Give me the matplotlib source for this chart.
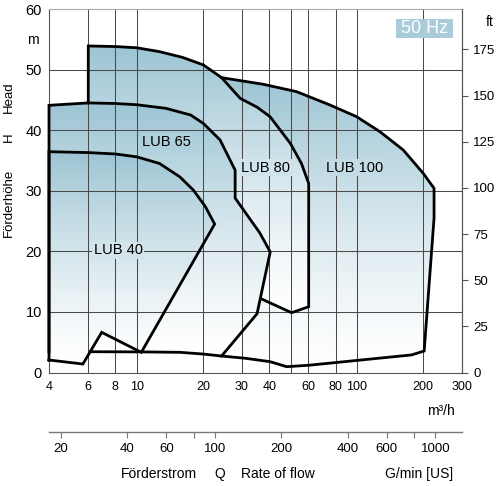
import numpy as np
import matplotlib.pyplot as plt
from matplotlib.patches import Polygon, Rectangle
from matplotlib.ticker import NullLocator, FixedLocator, FixedFormatter
from matplotlib.colors import to_rgb

plt.rcParams['font.family'] = ['Liberation Sans', 'DejaVu Sans']

M3H_TO_GPM = 4.40287
M_TO_FT = 3.28084

# --- pump range outlines, Q in m3/h, H in m ---
# LUB 40 field
q_lub40 = [4, 4, 6.03, 8.0, 10.0, 12.7, 15.7, 18.1, 20.5, 22.6, 10.5, 6.94, 5.7, 4]
h_lub40 = [2.06, 36.45, 36.3, 36.07, 35.6, 34.5, 32.3, 30.1, 27.4, 24.5, 3.33, 6.63, 1.40, 2.06]

# LUB 65 field (left edge, top curve, right edge, bottom)
q_lub65 = [4, 4, 6.03, 8.0, 10.0, 13.6, 17.6, 20.1, 23.9, 28.0, 28.0, 31.3, 36.3, 40.4,
           35.2, 24.3, 20.0, 15.7, 10.5, 6.2]
h_lub65 = [3.43, 44.1, 44.5, 44.4, 44.2, 43.6, 42.5, 41.1, 38.4, 33.4, 28.8, 26.3, 23.0, 19.9,
           9.7, 2.72, 3.05, 3.33, 3.40, 3.43]

# LUB 80 field (top curve, right edge, lower edge)
q_lub80 = [6.03, 6.03, 8.0, 10.0, 12.7, 16.2, 20.1, 24.3, 29.5, 35.2, 40.4, 49.9, 56.0, 60.4,
           60.4, 50.5, 36.6]
h_lub80 = [44.5, 53.9, 53.8, 53.6, 52.96, 52.0, 50.76, 48.67, 45.26, 43.8, 42.2, 37.8, 34.5, 31.2,
           10.86, 9.87, 12.2]

# LUB 100 field (top curve, right edge, bottom)
q_lub100 = [24.3, 26.5, 37.6, 53.2, 75.4, 99.6, 127.2, 162.3, 200, 224, 224, 202, 177,
            60.6, 48.0, 40.4, 31.3, 24.3]
h_lub100 = [48.67, 48.45, 47.57, 46.36, 44.16, 42.23, 39.75, 36.73, 32.88, 30.4, 25.5, 3.55, 2.9,
            1.2, 0.96, 1.78, 2.34, 2.72]

x_ticks = [4, 6, 8, 10, 20, 30, 40, 60, 80, 100, 200, 300]
x_grid = [6, 8, 10, 20, 30, 40, 50, 60, 80, 100, 200]
y_ticks = [0, 10, 20, 30, 40, 50, 60]
ft_ticks = [0, 25, 50, 75, 100, 125, 150, 175]
gpm_ticks = [20, 40, 60, 80, 100, 200, 400, 600, 800, 1000]
gpm_labels = ['20', '40', '60', '', '100', '200', '400', '600', '', '1000']

TOP = np.array(to_rgb('#9cc4d3'))
WHITE = np.ones(3)


def shade(h, h_bot, h_top):
    t = np.clip((np.asarray(h) - h_bot) / (h_top - h_bot), 0, 1) ** 1.3
    return WHITE * (1 - t[..., None]) + TOP * t[..., None]


def fill_gradient(ax, q, h, h_bot, h_top, z):
    poly = Polygon(np.column_stack([q, h]), closed=True, facecolor='none',
                   edgecolor='none', transform=ax.transData)
    ax.add_patch(poly)
    hs = np.linspace(0, 60, 400)
    img = shade(hs, h_bot, h_top)[:, None, :]
    im = ax.imshow(img, extent=[0, 1, 0, 1], transform=ax.transAxes, origin='lower',
                   aspect='auto', interpolation='bilinear', zorder=z)
    im.set_clip_path(poly)


fig = plt.figure(figsize=(5, 4.86), dpi=100)
ax = fig.add_axes([49 / 500, 1 - 372.5 / 486, 413 / 500, 363.5 / 486])
ax.set_xscale('log')
ax.set_xlim(4, 300)
ax.set_ylim(0, 60)
ax.set_autoscale_on(False)

fill_gradient(ax, q_lub100, h_lub100, 0.96, 48.7, 0.1)
fill_gradient(ax, q_lub80 + [6.03], h_lub80 + [12.2], 9.87, 53.9, 0.2)
fill_gradient(ax, q_lub65, h_lub65, 2.7, 44.5, 0.3)
fill_gradient(ax, q_lub40, h_lub40, 1.4, 36.45, 0.4)

for xv in x_grid:
    ax.axvline(xv, color='#4a4a4a', lw=0.75, zorder=2)
for yv in y_ticks[1:-1]:
    ax.axhline(yv, color='#4a4a4a', lw=0.75, zorder=2)

lw = 2.0
for q, h in [(q_lub40, h_lub40), (q_lub65, h_lub65), (q_lub80, h_lub80), (q_lub100, h_lub100)]:
    ax.plot(q, h, color='black', lw=lw, zorder=4, clip_on=False, solid_joinstyle='miter')

label_pos = [('LUB 65', 13.7, 38.1, 2.7, 44.5), ('LUB 80', 38.5, 33.8, 9.87, 53.9),
             ('LUB 100', 97.2, 33.8, 0.96, 48.7), ('LUB 40', 8.25, 20.2, 1.4, 36.45)]
for name, qx, hy, hb, ht in label_pos:
    ax.text(qx, hy, name, ha='center', va='center', fontsize=10.5, zorder=5,
            bbox=dict(boxstyle='square,pad=0.1', fc=shade(hy, hb, ht), ec='none'))

ax.xaxis.set_major_locator(FixedLocator(x_ticks))
ax.xaxis.set_major_formatter(FixedFormatter([str(v) for v in x_ticks]))
ax.xaxis.set_minor_locator(NullLocator())
ax.set_yticks(y_ticks)
ax.tick_params(axis='both', length=0)
ax.tick_params(axis='x', pad=6, labelsize=9)
ax.tick_params(axis='y', pad=5, labelsize=10.5)
for side in ['left', 'bottom', 'right']:
    ax.spines[side].set_color('#555555')
    ax.spines[side].set_linewidth(0.8)
ax.spines['top'].set_color('#aaaaaa')
ax.spines['top'].set_linewidth(0.8)

ax_r = ax.twinx()
ax_r.set_ylim(0, 60 * M_TO_FT)
ax_r.set_yticks(ft_ticks)
ax_r.tick_params(axis='y', direction='out', length=4, width=0.8, color='#555555',
                 labelsize=9.5, pad=4)
for side in ['left', 'bottom', 'top']:
    ax_r.spines[side].set_visible(False)
ax_r.spines['right'].set_color('#555555')
ax_r.spines['right'].set_linewidth(0.8)

# flow axis in US gallons per minute
ax_g = fig.add_axes([49 / 500, 1 - 432.3 / 486, 413 / 500, 0.001])
ax_g.set_facecolor('none')
ax_g.set_xscale('log')
ax_g.set_xlim(4 * M3H_TO_GPM, 300 * M3H_TO_GPM)
ax_g.xaxis.set_major_locator(FixedLocator(gpm_ticks))
ax_g.xaxis.set_major_formatter(FixedFormatter(gpm_labels))
ax_g.xaxis.set_minor_locator(NullLocator())
ax_g.set_yticks([])
for side in ['left', 'right', 'top']:
    ax_g.spines[side].set_visible(False)
ax_g.spines['bottom'].set_color('#777777')
ax_g.spines['bottom'].set_linewidth(1.0)
ax_g.tick_params(axis='x', direction='out', length=4, width=0.8, color='#777777',
                 labelsize=9.5, pad=4)

# texts around the plot
fig.text(33 / 500, 1 - 40 / 486, 'm', ha='center', va='center', fontsize=10)
fig.text(490 / 500, 1 - 22 / 486, 'ft', ha='center', va='center', fontsize=10)
fig.text(9 / 500, 1 - 96.7 / 486, 'Head', rotation=90, ha='center', va='center', fontsize=9.5)
fig.text(9 / 500, 1 - 137.3 / 486, 'H', rotation=90, ha='center', va='center', fontsize=9.5)
fig.text(9 / 500, 1 - 203 / 486, 'Förderhöhe', rotation=90, ha='center', va='center', fontsize=9.5)
fig.text(440.7 / 500, 1 - 410.7 / 486, 'm³/h', ha='center', va='center', fontsize=10)
for txt, xp in [('Förderstrom', 159), ('Q', 220), ('Rate of flow', 278), ('G/min [US]', 419)]:
    fig.text(xp / 500, 1 - 474 / 486, txt, ha='center', va='center', fontsize=10)

fig.patches.append(Rectangle((396 / 500, 1 - 38.3 / 486), 56.7 / 500, 19.3 / 486,
                             transform=fig.transFigure, facecolor='#a9ccd8', edgecolor='none',
                             zorder=5))
fig.text(424.3 / 500, 1 - 28.7 / 486, '50 Hz', ha='center', va='center', fontsize=13,
         color='white', zorder=6)

fig.savefig('out.png', dpi=100)
